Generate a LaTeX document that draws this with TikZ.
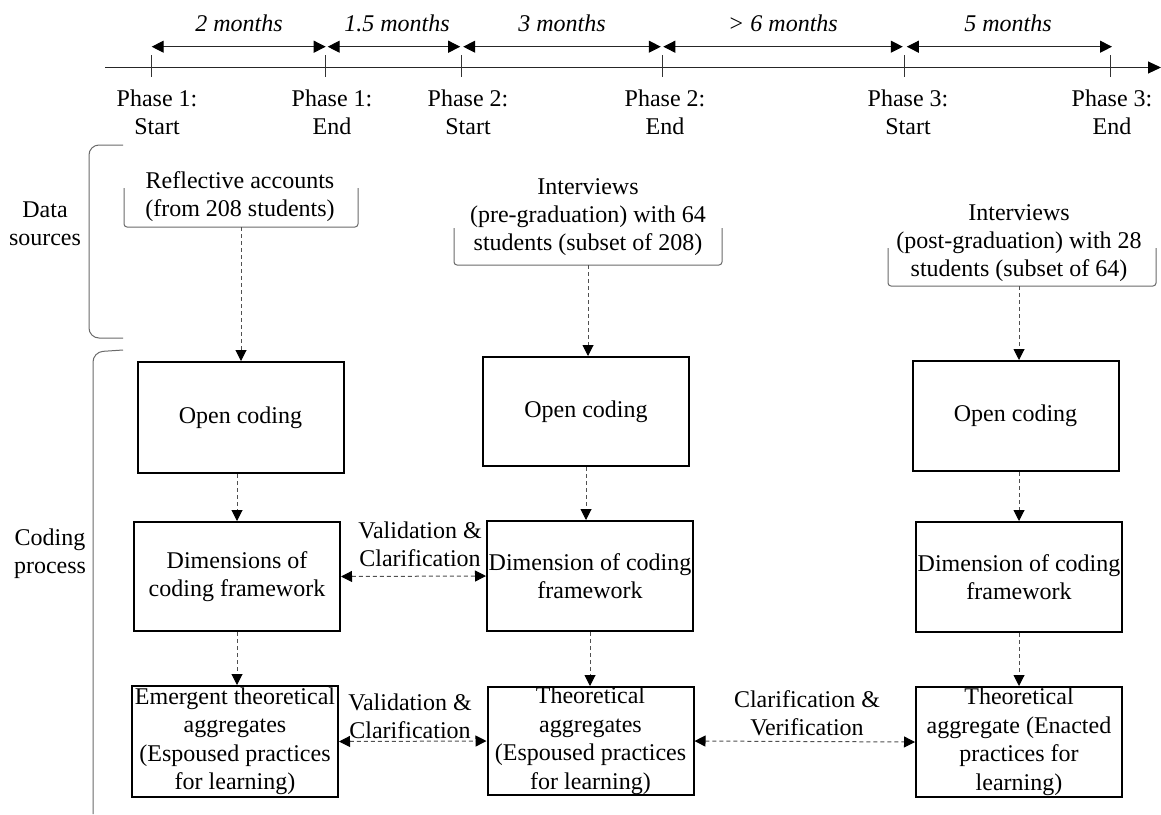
\documentclass[tikz,border=0pt]{standalone}
\usepackage{fontspec}
\setmainfont{Liberation Serif}
\usetikzlibrary{arrows.meta}
\definecolor{dashgray}{HTML}{505050}
\definecolor{brkgray}{HTML}{6A6A6A}
\tikzset{
  txt/.style={font=\fontsize{24}{28}\selectfont, align=center, inner sep=0pt},
  mon/.style={font=\fontsize{24}{28}\selectfont\itshape, inner sep=0pt},
  box/.style={draw=black, line width=2pt, minimum width=206pt, minimum height=110pt,
    inner sep=0pt, align=center, font=\fontsize{24}{28.5}\selectfont},
  axisline/.style={line width=1pt, draw=black!85, -{Triangle[length=13pt,width=12pt,black]}},
  tick/.style={line width=0.8pt, draw=black!80},
  span/.style={line width=1pt, draw=black!85, {Triangle[length=12pt,width=12pt,black]}-{Triangle[length=12pt,width=12pt,black]}},
  dsh/.style={line width=1pt, draw=dashgray, dash pattern=on 4pt off 3pt, -{Triangle[length=11pt,width=11pt,black]}},
  dshb/.style={line width=1pt, draw=dashgray, dash pattern=on 4pt off 3pt, {Triangle[length=11pt,width=11pt,black]}-{Triangle[length=11pt,width=11pt,black]}},
  brk/.style={line width=1pt, draw=brkgray, rounded corners=3pt},
  brace/.style={line width=1pt, draw=brkgray, rounded corners=10pt},
}
\begin{document}
\begin{tikzpicture}[x=1pt,y=-1pt]
\useasboundingbox[fill=white] (0,0) rectangle (1161,814);

% ---------- timeline ----------
\coordinate (ax0) at (105,67.5);
\coordinate (ax1) at (1161,67.5);
\draw[axisline] (ax0) -- (ax1);
\foreach \n/\x in {1/151.7,2/325.7,3/461.7,4/662.3,5/904.3,6/1110}{
  \coordinate (t\n) at (\x,67.5);
  \coordinate (r\n) at (\x,46.7);
  \draw[tick] (\x,55) -- (\x,77);
}
\draw[span] (r1) -- (r2);
\draw[span] ([xshift=2pt]r2) -- ([xshift=-1.5pt]r3);
\draw[span] ([xshift=1.5pt]r3) -- ([xshift=-1.5pt]r4);
\draw[span] ([xshift=1pt]r4) -- ([xshift=-1.5pt]r5);
\draw[span] ([xshift=2.5pt]r5) -- ([xshift=2pt]r6);

\node[mon] (m1) at (239,23) {2 months};
\node[mon] (m2) at (397,23) {1.5 months};
\node[mon] (m3) at (562,23) {3 months};
\node[mon] (m4) at (783,23) {> 6 months};
\node[mon] (m5) at (1008,23) {5 months};

\node[txt] (p1) at (157,112) {Phase 1:\\Start};
\node[txt] (p2) at (332,112) {Phase 1:\\End};
\node[txt] (p3) at (468,112) {Phase 2:\\Start};
\node[txt] (p4) at (665,112) {Phase 2:\\End};
\node[txt] (p5) at (908,112) {Phase 3:\\Start};
\node[txt] (p6) at (1112,112) {Phase 3:\\End};

% ---------- braces ----------
\draw[brace] (123,145) -- (89,145) -- (89,338) -- (123,338);
\draw[brace] (123,350) -- (93,352) -- (93,814);
\node[txt] (ds) at (45,224) {Data\\sources};
\node[txt] (cp) at (50,554) {Coding\\process};

% ---------- data sources ----------
\node[txt] (rs) at (240,197) {Reflective accounts\\(from 208 students)};
\draw[brk] (124,188) -- (124,227) -- (358,227) -- (358,188);
\coordinate (rsb) at (241,227);

\node[txt] (pg) at (588,217.5) {Interviews\\(pre-graduation) with 64\\students (subset of 208)};
\draw[brk] (454,228) -- (454,265) -- (722,265) -- (722,228);
\coordinate (pgb) at (588,265);

\node[txt] (po) at (1019,243.5) {Interviews\\(post-graduation) with 28\\students (subset of 64)};
\draw[brk] (888,248) -- (888,286) -- (1156,286) -- (1156,248);
\coordinate (pob) at (1019,286);

% ---------- coding boxes ----------
\node[box, minimum height=111pt] (oc1) at (240.5,417.5) {Open coding};
\node[box, minimum height=109pt] (oc2) at (586,411.5) {Open coding};
\node[box] (oc3) at (1015.5,416) {Open coding};

\node[box, minimum height=109pt] (d1) at (237,576.5) {Dimensions of\\coding framework};
\node[box] (d2) at (590,576) {Dimension of coding\\framework};
\node[box] (d3) at (1019,577) {Dimension of coding\\framework};

\node[box, minimum height=111pt] (th1) at (235,741.5) {Emergent theoretical\\aggregates\\(Espoused practices\\for learning)};
\node[box, minimum height=108pt] (th2) at (590.5,741) {Theoretical\\aggregates\\(Espoused practices\\for learning)};
\node[box] (th3) at (1019,742) {Theoretical\\aggregate (Enacted\\practices for\\learning)};

% ---------- vertical connectors ----------
\draw[dsh] (rsb) -- (rsb |- oc1.north);
\draw[dsh] (pgb) -- (pgb |- oc2.north);
\draw[dsh] (pob) -- (pob |- oc3.north);

\draw[dsh] (d1.north |- oc1.south) -- (d1.north);
\draw[dsh] (oc2.south) -- (oc2.south |- d2.north);
\draw[dsh] (d3.north |- oc3.south) -- (d3.north);

\draw[dsh] (d1.south) -- (th1.north -| d1.south);
\draw[dsh] (d2.south) -- (th2.north -| d2.south);
\draw[dsh] (d3.south) -- (th3.north);

% ---------- horizontal connectors ----------
\draw[dshb] (d1.east) -- (d2.west);
\draw[dshb] (th1.east) -- (th2.west);
\draw[dshb] (th2.east) -- (th3.west);

\node[txt] (vc1) at (420,544) {Validation \&\\Clarification};
\node[txt] (vc2) at (410,716) {Validation \&\\Clarification};
\node[txt] (cv) at (807,713) {Clarification \&\\Verification};
\end{tikzpicture}
\end{document}
